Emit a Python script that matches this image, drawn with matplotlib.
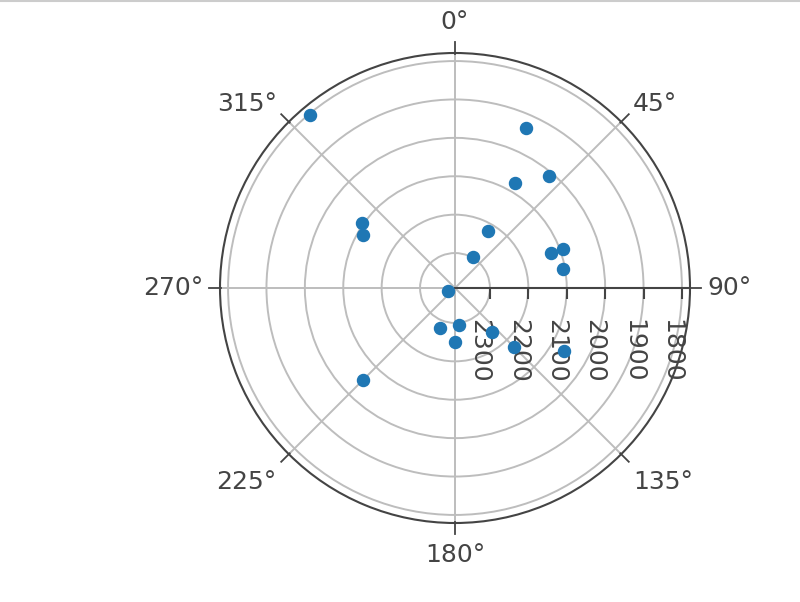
import numpy as np
import matplotlib
matplotlib.use("Agg")
import matplotlib.pyplot as plt
from matplotlib.lines import Line2D

# angle in degrees (clockwise from north) and radial value
theta_deg = [320, 24, 40, 30, 305, 300, 30, 30, 70, 70, 80, 250, 200, 174, 180, 140, 135, 120, 225]
r_vals = [1802, 1935, 2011, 2076, 2096, 2113, 2220, 2299, 2092, 2126, 2106, 2371, 2279, 2293, 2251, 2242, 2172, 2064, 2051]

r_ticks = [2300, 2200, 2100, 2000, 1900, 1800]
angle_ticks = [0, 45, 90, 135, 180, 225, 270, 315]
r_range = (2391, 1779)

fig = plt.figure(figsize=(8, 6.02), dpi=100)
ax = fig.add_axes([220 / 800, 79 / 602, 470 / 800, 470 / 602], projection="polar")
ax.set_theta_zero_location("N")
ax.set_theta_direction(-1)
ax.set_rlim(r_range[0], r_range[1])

grid_c = "#bdbdbd"
axis_c = "#444444"

ax.set_xticks(np.radians(angle_ticks))
ax.set_xticklabels([])
ax.tick_params(axis="x", length=0)
ax.xaxis.grid(True, color=grid_c, linewidth=1.4)

ax.set_yticks(r_ticks)
ax.set_yticklabels([])
ax.yaxis.grid(True, color=grid_c, linewidth=1.4)
ax.tick_params(axis="y", length=0)

ax.spines["polar"].set_color(axis_c)
ax.spines["polar"].set_linewidth(1.5)

# angular tick marks outside the rim and labels anchored like plotly
for a in angle_ticks:
    t = np.radians(a)
    ax.plot([t, t], [r_range[1] + 3, r_range[1] - 28], color=axis_c,
            lw=1.3, clip_on=False, zorder=2)
    s, c = np.sin(t), np.cos(t)
    ha = "left" if s > 0.1 else ("right" if s < -0.1 else "center")
    va = "bottom" if c > 0.1 else ("top" if c < -0.1 else "center")
    dy = 12.2 * c
    if abs(s) > 0.1 and c > 0.1:
        dy -= 4.5
    elif c > 0.1:
        dy += 1.5
    elif c < -0.1:
        dy -= 2.5
    ax.annotate(f"{a}°", xy=(t, r_range[1]), xytext=(12.2 * s, dy),
                textcoords="offset points", ha=ha, va=va, fontsize=18,
                color=axis_c, annotation_clip=False)

# radial axis line along 90 degrees with ticks and rotated labels
ax.plot([np.pi / 2, np.pi / 2], [r_range[0], r_range[1]], color=axis_c, lw=1.5, zorder=2)
ax.plot([np.pi / 2] * len(r_ticks), r_ticks, linestyle="none", marker=3,
        markersize=8, markeredgewidth=1.5, color=axis_c, zorder=2)
for v in r_ticks:
    ax.annotate(str(v), xy=(np.pi / 2, v), xytext=(1, -22), textcoords="offset points",
                rotation=-90, ha="left", va="top", fontsize=18, color=axis_c,
                rotation_mode="anchor")

ax.scatter(np.radians(theta_deg), r_vals, s=75, color="#1f77b4", zorder=3, clip_on=False)

# thin grey border along the top edge
fig.add_artist(Line2D([0, 1], [0.998, 0.998], transform=fig.transFigure,
                      color="#cccccc", lw=1.5))

fig.savefig("out.png", dpi=100, facecolor="white")
